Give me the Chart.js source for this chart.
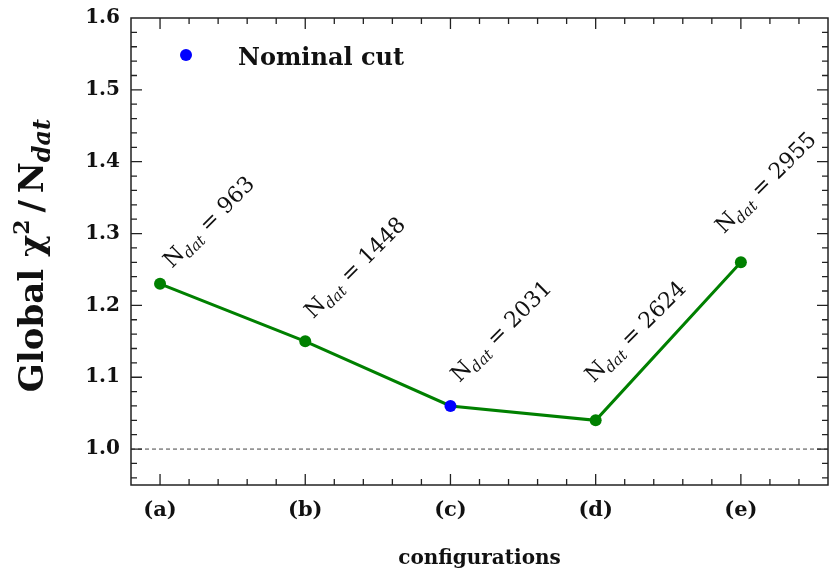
<!DOCTYPE html>
<html>
<head>
<meta charset="utf-8">
<script src="https://cdn.jsdelivr.net/npm/chart.js@4.4.1/dist/chart.umd.min.js"></script>
<style>
  html, body { margin: 0; padding: 0; background: #fff; }
  canvas { display: block; }
</style>
</head>
<body>
<canvas id="chiChart" width="830" height="571"></canvas>
<script>
// cấu hình (a)-(e) và chi2 toàn cục / Ndat
const configLabels = ['(a)', '(b)', '(c)', '(d)', '(e)'];
const chi2PerPoint = [1.23, 1.15, 1.06, 1.04, 1.26];
const nDatValues = [963, 1448, 2031, 2624, 2955];
const nominalIndex = 2; // (c) = nominal cut
const yTickValues = [1.0, 1.1, 1.2, 1.3, 1.4, 1.5, 1.6];
const referenceValue = 1.0;
const legendText = 'Nominal cut';

const green = '#008000';
const blue = '#0000ff';
const ink = '#222222';
const serif = '"DejaVu Serif", serif';

// vẽ chuỗi chữ có chỉ số trên/dưới, trả về độ rộng
function richWidth(ctx, parts) {
    let w = 0;
    parts.forEach(p => { ctx.font = p.font; w += ctx.measureText(p.text).width; });
    return w;
}
function drawRich(ctx, parts, x, y) {
    parts.forEach(p => {
        ctx.font = p.font;
        ctx.fillText(p.text, x, y + (p.dy || 0));
        x += ctx.measureText(p.text).width;
    });
}

// lệch nhãn N_dat so với điểm (px)
const labelShift = [[12, -15], [8, -22], [9, -23], [-2, -37], [-17, -28]];

const decorPlugin = {
    id: 'decor',
    beforeDatasetsDraw(chart) {
        const { ctx, chartArea: a, scales: { y } } = chart;
        const py = y.getPixelForValue(referenceValue);
        ctx.save();
        ctx.strokeStyle = '#444';
        ctx.lineWidth = 1;
        ctx.setLineDash([4, 3]);
        ctx.beginPath();
        ctx.moveTo(a.left, py);
        ctx.lineTo(a.right, py);
        ctx.stroke();
        ctx.restore();
    },
    afterDraw(chart) {
        const { ctx, chartArea: a, scales: { x, y } } = chart;
        ctx.save();
        // khung
        ctx.strokeStyle = ink;
        ctx.lineWidth = 1.5;
        ctx.strokeRect(a.left, a.top, a.right - a.left, a.bottom - a.top);

        // vạch chia hướng vào trong, 4 cạnh
        ctx.lineWidth = 1.3;
        ctx.beginPath();
        for (let k = 0; k < 23; k++) {
            const px = x.getPixelForValue(k * 0.2);
            const len = k % 5 === 0 ? 11 : 6;
            ctx.moveTo(px, a.bottom); ctx.lineTo(px, a.bottom - len);
            ctx.moveTo(px, a.top); ctx.lineTo(px, a.top + len);
        }
        for (let k = 48; k < 80; k++) {
            const py = y.getPixelForValue(k * 0.02);
            const len = k % 5 === 0 ? 11 : 6;
            ctx.moveTo(a.left, py); ctx.lineTo(a.left + len, py);
            ctx.moveTo(a.right, py); ctx.lineTo(a.right - len, py);
        }
        ctx.stroke();

        // nhãn N_dat xoay 45 độ
        ctx.fillStyle = '#111';
        ctx.textBaseline = 'alphabetic';
        ctx.textAlign = 'left';
        nDatValues.forEach((n, i) => {
            const px = x.getPixelForValue(i) + labelShift[i][0];
            const py = y.getPixelForValue(chi2PerPoint[i]) + labelShift[i][1];
            ctx.save();
            ctx.translate(px, py);
            ctx.rotate(-Math.PI / 4);
            drawRich(ctx, [
                { text: 'N', font: '22px ' + serif },
                { text: 'dat', font: 'italic 15px ' + serif, dy: 5 },
                { text: ' = ' + n, font: '22px ' + serif }
            ], 0, 0);
            ctx.restore();
        });

        // chú giải
        ctx.fillStyle = blue;
        ctx.beginPath();
        ctx.arc(a.left + 55, a.top + 37, 6, 0, Math.PI * 2);
        ctx.fill();
        ctx.fillStyle = '#111';
        ctx.font = 'bold 24px ' + serif;
        ctx.fillText(legendText, a.left + 107, a.top + 47);

        // tiêu đề trục x
        ctx.textAlign = 'center';
        ctx.font = 'bold 20px ' + serif;
        ctx.fillText('configurations', (a.left + a.right) / 2, 564);

        // tiêu đề trục y
        const yTitle = [
            { text: 'Global ', font: 'bold 34px ' + serif },
            { text: 'χ', font: 'bold 34px ' + serif },
            { text: '2', font: 'bold 22px ' + serif, dy: -14 },
            { text: '\u2009/\u2009', font: 'bold 34px ' + serif },
            { text: 'N', font: 'bold 34px ' + serif },
            { text: 'dat', font: 'bold italic 24px ' + serif, dy: 7 }
        ];
        ctx.textAlign = 'left';
        const w = richWidth(ctx, yTitle);
        ctx.translate(43, (a.top + a.bottom) / 2 + 4);
        ctx.rotate(-Math.PI / 2);
        drawRich(ctx, yTitle, -w / 2, 0);
        ctx.restore();
    }
};

const ctx = document.getElementById('chiChart').getContext('2d');
new Chart(ctx, {
    type: 'line',
    data: {
        datasets: [{
            label: 'Global chi2/Ndat',
            data: chi2PerPoint.map((v, i) => ({ x: i, y: v })),
            borderColor: green,
            borderWidth: 3,
            tension: 0,
            pointRadius: 6,
            pointBorderWidth: 0,
            pointBackgroundColor: chi2PerPoint.map((_, i) => i === nominalIndex ? blue : green),
            pointBorderColor: chi2PerPoint.map((_, i) => i === nominalIndex ? blue : green)
        }]
    },
    options: {
        responsive: false,
        animation: false,
        layout: { autoPadding: false, padding: { top: 18, right: 2, left: 0, bottom: 0 } },
        plugins: { legend: { display: false }, tooltip: { enabled: false } },
        scales: {
            x: {
                type: 'linear',
                min: -0.2,
                max: 4.6,
                afterBuildTicks: s => { s.ticks = configLabels.map((_, i) => ({ value: i })); },
                afterFit: s => { s.height = 86; s.paddingLeft = 0; s.paddingRight = 0; },
                grid: { display: false, drawTicks: false },
                border: { display: false },
                ticks: {
                    callback: v => configLabels[v],
                    font: { family: serif, size: 21, weight: 'bold' },
                    color: '#111',
                    padding: 13,
                    maxRotation: 0,
                    autoSkip: false
                }
            },
            y: {
                min: 0.95,
                max: 1.6,
                afterBuildTicks: s => { s.ticks = yTickValues.map(v => ({ value: v })); },
                afterFit: s => { s.width = 131; s.paddingTop = 0; s.paddingBottom = 0; },
                grid: { display: false, drawTicks: false },
                border: { display: false },
                ticks: {
                    callback: v => v.toFixed(1),
                    font: { family: serif, size: 20, weight: 'bold' },
                    color: '#111',
                    padding: 11,
                    autoSkip: false
                }
            }
        }
    },
    plugins: [decorPlugin]
});
</script>
</body>
</html>
